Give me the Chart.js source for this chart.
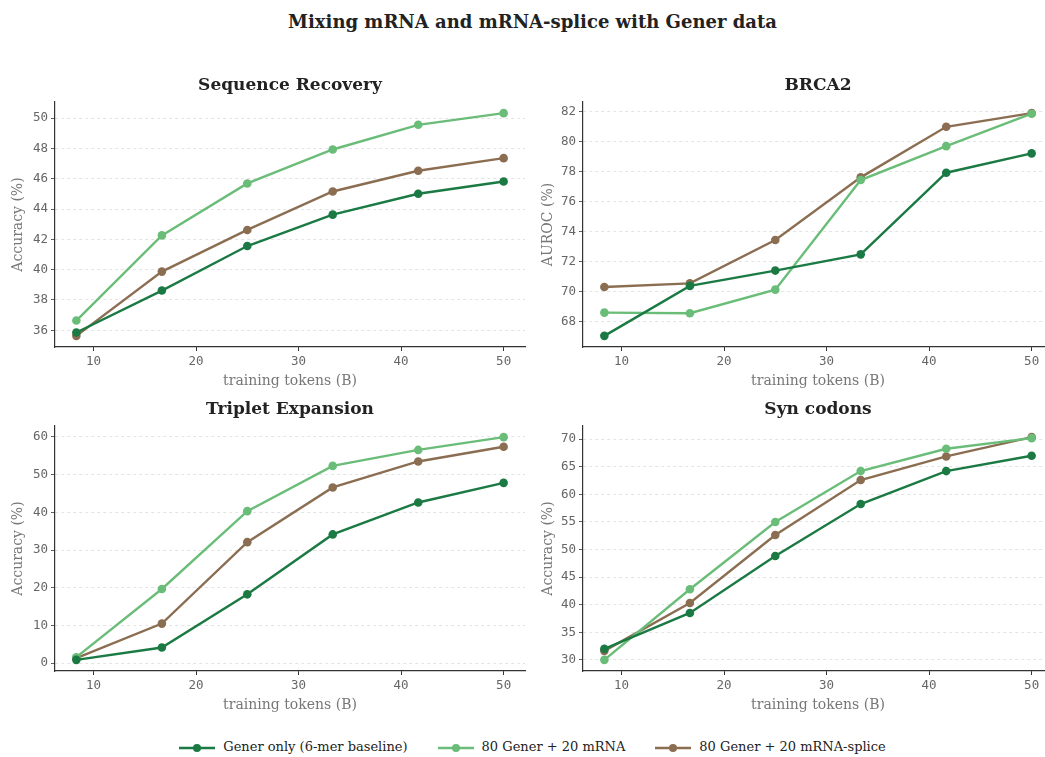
<!DOCTYPE html>
<html>
<head>
<meta charset="utf-8">
<script src="https://cdn.jsdelivr.net/npm/chart.js@4"></script>
<style>
  body { margin: 0; background: #fff; width: 1045px; height: 757px; position: relative; overflow: hidden; }
  #title { position: absolute; left: 0; top: 11px; width: 1065px; text-align: center;
           font: bold 18px "DejaVu Serif", serif; color: #222; }
  .panel { position: absolute; }
  #legend { position: absolute; left: 0; top: 739px; width: 1065px; text-align: center;
            font: 13px "DejaVu Serif", serif; color: #222; white-space: nowrap; }
  .item { display: inline-block; margin: 0 15px; }
  .item canvas { vertical-align: middle; margin-right: 8px; }
</style>
</head>
<body>
<div id="title">Mixing mRNA and mRNA-splice with Gener data</div>
<canvas id="chart0" class="panel" style="left:0px;top:70px" width="530" height="320"></canvas>
<canvas id="chart1" class="panel" style="left:530px;top:70px" width="530" height="320"></canvas>
<canvas id="chart2" class="panel" style="left:0px;top:394px" width="530" height="320"></canvas>
<canvas id="chart3" class="panel" style="left:530px;top:394px" width="530" height="320"></canvas>
<div id="legend"></div>
<script>
// training tokens (B)
const tokens = [8.33, 16.67, 25, 33.33, 41.67, 50];
const xTicks = [10, 20, 30, 40, 50];

const seriesNames = ["Gener only (6-mer baseline)", "80 Gener + 20 mRNA", "80 Gener + 20 mRNA-splice"];
const seriesColors = ["#1b7a43", "#6abd78", "#8b6e52"];

// Sequence Recovery
const seqGener = [35.85, 38.62, 41.56, 43.63, 45.01, 45.82];
const seqMrna = [36.64, 42.26, 45.69, 47.93, 49.56, 50.33];
const seqSplice = [35.63, 39.87, 42.62, 45.16, 46.53, 47.36];
const seqTicks = [36, 38, 40, 42, 44, 46, 48, 50];

// BRCA2
const brcaGener = [67.07, 70.40, 71.42, 72.50, 77.94, 79.23];
const brcaMrna = [68.62, 68.58, 70.15, 77.45, 79.71, 81.87];
const brcaSplice = [70.33, 70.57, 73.46, 77.63, 81.00, 81.91];
const brcaTicks = [68, 70, 72, 74, 76, 78, 80, 82];

// Triplet Expansion
const tripGener = [0.88, 4.15, 18.26, 34.15, 42.62, 47.82];
const tripMrna = [1.59, 19.68, 40.32, 52.32, 56.56, 59.95];
const tripSplice = [1.32, 10.5, 32.1, 46.6, 53.5, 57.4];
const tripTicks = [0, 10, 20, 30, 40, 50, 60];

// Syn codons
const synGener = [31.99, 38.5, 48.82, 58.24, 64.21, 66.98];
const synMrna = [30.0, 42.79, 54.98, 64.21, 68.25, 70.18];
const synSplice = [31.63, 40.3, 52.62, 62.58, 66.86, 70.36];
const synTicks = [30, 35, 40, 45, 50, 55, 60, 65, 70];

const panels = [
    { title: "Sequence Recovery", ylabel: "Accuracy (%)", series: [seqGener, seqMrna, seqSplice], ticks: seqTicks, yWidth: 55, right: 5 },
    { title: "BRCA2", ylabel: "AUROC (%)", series: [brcaGener, brcaMrna, brcaSplice], ticks: brcaTicks, yWidth: 53, right: 7 },
    { title: "Triplet Expansion", ylabel: "Accuracy (%)", series: [tripGener, tripMrna, tripSplice], ticks: tripTicks, yWidth: 55, right: 5 },
    { title: "Syn codons", ylabel: "Accuracy (%)", series: [synGener, synMrna, synSplice], ticks: synTicks, yWidth: 53, right: 7 },
];

// matplotlib-like 5% margins around the data
function paddedRange(values) {
    let lo = Math.min(...values), hi = Math.max(...values);
    let m = (hi - lo) * 0.05;
    return [lo - m, hi + m];
}

// subplot title centred over the plot area, like matplotlib does
const panelTitle = {
    id: 'panelTitle',
    afterDraw(chart, args, opts) {
        let { ctx, chartArea } = chart;
        ctx.save();
        ctx.font = "bold 17px 'DejaVu Serif'";
        ctx.fillStyle = "#222";
        ctx.textAlign = "center";
        ctx.textBaseline = "middle";
        ctx.fillText(opts.text, (chartArea.left + chartArea.right) / 2, chartArea.top - 16);
        ctx.restore();
    }
};

const tickFont = { family: "DejaVu Sans Mono", size: 12.5 };
const labelFont = { family: "DejaVu Serif", size: 14 };
const [xMin, xMax] = paddedRange(tokens);

var charts = [];
for (let i = 0; i < 4; i++) {
    let p = panels[i];
    let [yMin, yMax] = paddedRange(p.series.flat());
    let ctx = document.getElementById("chart" + i).getContext("2d");
    charts.push(new Chart(ctx, {
        type: 'line',
        data: {
            datasets: p.series.map((vals, k) => ({
                label: seriesNames[k],
                data: vals.map((v, j) => ({ x: tokens[j], y: v })),
                borderColor: seriesColors[k],
                backgroundColor: seriesColors[k],
                borderWidth: 2.4,
                pointRadius: 4.3,
                pointBorderWidth: 0,
                tension: 0,
                fill: false,
            }))
        },
        plugins: [panelTitle],
        options: {
            responsive: false,
            animation: false,
            layout: { padding: { right: p.right, left: 0, top: 32, bottom: 0 } },
            plugins: {
                legend: { display: false },
                tooltip: { enabled: false },
                panelTitle: { text: p.title }
            },
            scales: {
                x: {
                    type: 'linear',
                    min: xMin,
                    max: xMax,
                    afterBuildTicks: axis => { axis.ticks = xTicks.map(v => ({ value: v })); },
                    afterFit: axis => { axis.height = 43; },
                    grid: { drawOnChartArea: false, drawTicks: true, tickLength: 4, tickColor: "#333" },
                    border: { color: "#333", width: 1.2 },
                    ticks: { font: tickFont, color: "#666", padding: 3, maxRotation: 0 },
                    title: { display: true, text: "training tokens (B)", font: labelFont, color: "#777", padding: { top: 2, bottom: 0 } }
                },
                y: {
                    type: 'linear',
                    min: yMin,
                    max: yMax,
                    afterBuildTicks: axis => { axis.ticks = p.ticks.map(v => ({ value: v })); },
                    afterFit: axis => { axis.width = p.yWidth; },
                    grid: { color: "#dddddd", lineWidth: 0.8, drawTicks: true, tickLength: 4, tickColor: "#333", tickBorderDash: [] },
                    border: { color: "#333", width: 1.2, dash: [3, 3] },
                    ticks: { font: tickFont, color: "#666", padding: 3 },
                    title: { display: true, text: p.ylabel, font: labelFont, color: "#777", padding: { top: 10, bottom: 2 } }
                }
            }
        }
    }));
}

// shared legend under the grid
let legend = document.getElementById("legend");
seriesNames.forEach((name, k) => {
    let item = document.createElement("span");
    item.className = "item";
    let c = document.createElement("canvas");
    c.width = 36; c.height = 12;
    let g = c.getContext("2d");
    g.strokeStyle = seriesColors[k];
    g.fillStyle = seriesColors[k];
    g.lineWidth = 2.4;
    g.beginPath(); g.moveTo(0, 6); g.lineTo(36, 6); g.stroke();
    g.beginPath(); g.arc(18, 6, 4, 0, Math.PI * 2); g.fill();
    item.appendChild(c);
    item.appendChild(document.createTextNode(name));
    legend.appendChild(item);
});
</script>
</body>
</html>
